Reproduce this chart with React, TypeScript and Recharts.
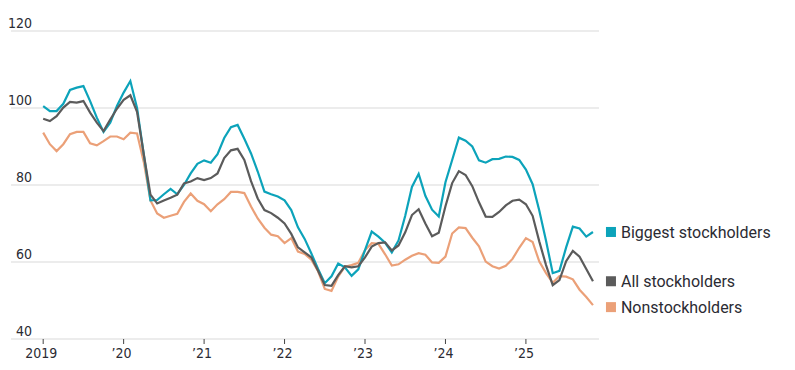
import React from "react";
import { LineChart, Line, XAxis, YAxis, CartesianGrid } from "recharts";

// Monthly index, Jan 2019 (0) .. Nov 2025 (82)
const biggest = [
  100.5, 99.2, 99.2, 101.1, 104.7, 105.3, 105.7, 101.8, 97.5, 93.8, 96.2, 100.5,
  104, 107, 100, 88, 76, 76.1, 77.6, 79, 77.6, 80, 83, 85.5,
  86.4, 85.8, 88, 92.2, 95, 95.6, 92, 88.2, 83.5, 78.3, 77.6, 77,
  76, 73.5, 69, 66, 62.2, 58.2, 54.5, 56.3, 59.6, 58.6, 56.4, 58.1,
  63.1, 67.9, 66.6, 65, 62.5, 65.6, 72, 79.5, 82.9, 77.2, 73.6, 71.8,
  80.7, 86.5, 92.3, 91.5, 90, 86.4, 85.8, 86.7, 86.8, 87.4, 87.3, 86.5,
  84, 80.2, 73.3, 65.5, 57.1, 57.7, 63.8, 69.2, 68.7, 66.6, 67.8,
];
const allHolders = [
  97.2, 96.6, 97.9, 100.1, 101.6, 101.4, 101.8, 98.8, 96.2, 94, 97, 99.8,
  102.1, 103.3, 99, 88, 77.5, 75.2, 76, 76.7, 77.5, 80.4, 80.9, 81.8,
  81.3, 81.8, 83, 87, 89, 89.4, 86.5, 81, 76.5, 73.5, 72.7, 71.5,
  70, 67.3, 63.8, 62.5, 61.2, 57.7, 54, 53.8, 56.6, 58.9, 58.6, 58.9,
  61.2, 64, 64.9, 65.1, 63, 64.3, 67.7, 72.2, 73.7, 70, 66.7, 67.6,
  74.5, 80.5, 83.6, 82.6, 79.7, 75.5, 71.8, 71.7, 73, 74.7, 75.9, 76.2,
  75, 72, 65.3, 59.2, 54, 55.3, 60.2, 62.9, 61.4, 58.2, 55,
];
const nonHolders = [
  93.6, 90.6, 88.8, 90.6, 93.2, 93.8, 93.8, 90.8, 90.3, 91.4, 92.6, 92.6,
  91.9, 93.6, 93.4, 86, 76, 72.6, 71.5, 72, 72.5, 75.6, 77.8, 75.9,
  75, 73.2, 75, 76.3, 78.2, 78.2, 77.9, 74.4, 71.3, 68.9, 67.1, 66.7,
  64.9, 66.2, 62.7, 62.1, 60.6, 57.6, 53, 52.5, 56.2, 58.8, 59.2, 59.8,
  63.1, 64.9, 64.7, 62, 59.1, 59.4, 60.6, 61.6, 62.3, 61.9, 59.9, 59.8,
  61.4, 67.4, 69, 68.8, 66.3, 64.1, 60.1, 58.9, 58.3, 59, 60.8, 63.7,
  66.2, 65.2, 60.1, 57.1, 54.6, 56.3, 56.2, 55.5, 52.8, 50.9, 48.8,
];

const seriesNames = ["Biggest stockholders", "All stockholders", "Nonstockholders"];
const yTicks = [40, 60, 80, 100, 120];
const xTicks = [0, 12, 24, 36, 48, 60, 72];
const xTickLabels = ["2019", "\u201920", "\u201921", "\u201922", "\u201923", "\u201924", "\u201925"];

const data = biggest.map((b, i) => ({
  i,
  big: b,
  all: allHolders[i],
  non: nonHolders[i],
}));

const C_BIG = "#0ca3ba";
const C_ALL = "#5b5b5b";
const C_NON = "#eba078";
const TEXT = "#2b2b33";
const NARROW = "'Liberation Sans Narrow', 'DejaVu Sans Condensed', sans-serif";
const LEGEND_FONT = "Roboto, 'Noto Sans', sans-serif";

const last = data.length - 1;

const makeEndLabel = (name: string, color: string, dy: number) => (props: any) => {
  const { x, y, index } = props;
  if (index !== last) return null;
  return (
    <g>
      <rect x={x + 13} y={y - 5 + dy} width={10} height={10} fill={color} />
      <text
        x={x + 28}
        y={y + 6 + dy}
        fontFamily={LEGEND_FONT}
        fontSize={16}
        fill={TEXT}
      >
        {name}
      </text>
    </g>
  );
};

const YTick = (props: any) => {
  const { y, payload } = props;
  return (
    <text x={32} y={y - 3} textAnchor="end" fontFamily={NARROW} fontSize={14} fill={TEXT}>
      {payload.value}
    </text>
  );
};

const XTick = (props: any) => {
  const { x, y, payload } = props;
  const idx = xTicks.indexOf(payload.value);
  return (
    <text x={x - 2} y={y + 11} textAnchor="middle" fontFamily={NARROW} fontSize={14} fill={TEXT}>
      {xTickLabels[idx]}
    </text>
  );
};

export default function App() {
  return (
    <div style={{ position: "absolute", left: 0, top: 0, background: "#fff" }}>
      <LineChart
        width={795}
        height={370}
        data={data}
        margin={{ top: 31, right: 196, bottom: 0, left: 11 }}
      >
        <CartesianGrid vertical={false} stroke="#e6e6e6" strokeWidth={1.6} />
        <XAxis
          dataKey="i"
          type="number"
          domain={[-4.8, 82.9]}
          ticks={xTicks}
          height={31}
          axisLine={false}
          tickLine={{ stroke: "#444", strokeWidth: 1 }}
          tickSize={5}
          tickMargin={3}
          tick={<XTick />}
          interval={0}
        />
        <YAxis
          domain={[40, 120]}
          ticks={yTicks}
          mirror
          axisLine={false}
          tickLine={false}
          tick={<YTick />}
        />
        <Line
          dataKey="non"
          stroke={C_NON}
          strokeWidth={2.2}
          dot={false}
          isAnimationActive={false}
          label={makeEndLabel(seriesNames[2], C_NON, 2)}
        />
        <Line
          dataKey="big"
          stroke={C_BIG}
          strokeWidth={2.2}
          dot={false}
          isAnimationActive={false}
          label={makeEndLabel(seriesNames[0], C_BIG, 0)}
        />
        <Line
          dataKey="all"
          stroke={C_ALL}
          strokeWidth={2.2}
          dot={false}
          isAnimationActive={false}
          label={makeEndLabel(seriesNames[1], C_ALL, 0)}
        />
      </LineChart>
    </div>
  );
}
